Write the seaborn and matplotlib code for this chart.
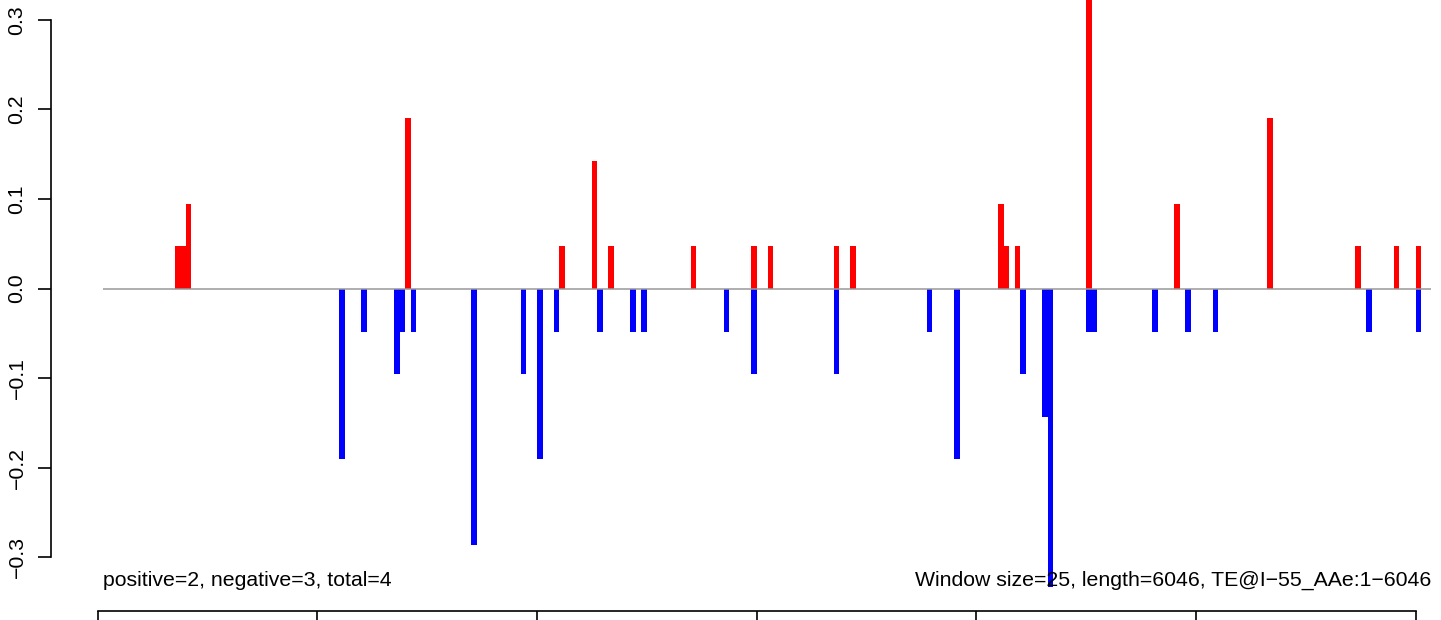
import numpy as np
import pandas as pd
import matplotlib
matplotlib.use("Agg")
import matplotlib.pyplot as plt
import seaborn as sns

# window settings from the label
window = 25
seq_len = 6046
n_win = int(np.ceil(seq_len / window))

# windows with positive score (index of window, value)
pos_win = [14, 15, 16, 56, 84, 90, 93, 108, 119, 122, 134, 137, 164, 165, 167,
           180, 196, 213, 229, 236, 240]
pos_val = [0.048, 0.048, 0.095, 0.19, 0.048, 0.143, 0.048, 0.048, 0.048, 0.048,
           0.048, 0.048, 0.095, 0.048, 0.048, 0.333, 0.095, 0.19, 0.048, 0.048, 0.048]

# windows with negative score
neg_win = [44, 48, 54, 55, 57, 68, 77, 80, 83, 91, 97, 99, 114, 119, 134, 151,
           156, 168, 172, 173, 180, 181, 192, 198, 203, 231, 240]
neg_val = [-0.19, -0.048, -0.095, -0.048, -0.048, -0.286, -0.095, -0.19, -0.048,
           -0.048, -0.048, -0.048, -0.048, -0.095, -0.095, -0.048, -0.19, -0.095,
           -0.143, -0.333, -0.048, -0.048, -0.048, -0.048, -0.048, -0.048, -0.048]

y_ticks = [-0.3, -0.2, -0.1, 0.0, 0.1, 0.2, 0.3]
y_labels = ["\u22120.3", "\u22120.2", "\u22120.1", "0.0", "0.1", "0.2", "0.3"]
x_ticks = [0, 1000, 2000, 3000, 4000, 5000, 6000]

left_text = "positive=2, negative=3, total=4"
right_text = "Window size=25, length=6046, TE@I\u221255_AAe:1\u22126046"

pos_df = pd.DataFrame({"pos": np.array(pos_win) * window + window / 2, "score": pos_val})
neg_df = pd.DataFrame({"pos": np.array(neg_win) * window + window / 2, "score": neg_val})

sns.set_style("white")
plt.rcParams["font.family"] = ["Liberation Sans", "DejaVu Sans"]
plt.rcParams["font.size"] = 15.3
plt.rcParams["text.color"] = "black"
plt.rcParams["xtick.color"] = "black"
plt.rcParams["ytick.color"] = "black"
plt.rcParams["axes.labelcolor"] = "black"

fig = plt.figure(figsize=(14.41, 6.2), dpi=100)
ax = fig.add_axes([0, 0, 1, 1])
ax.patch.set_alpha(0)

# bars: one bin per window, weighted by the score
sns.histplot(data=pos_df, x="pos", weights="score", binwidth=window,
             binrange=(0, window * n_win), color="#ff0000", alpha=1,
             linewidth=0, ax=ax)
sns.histplot(data=neg_df, x="pos", weights="score", binwidth=window,
             binrange=(0, window * n_win), color="#0000ff", alpha=1,
             linewidth=0, ax=ax)

# zero line over the sequence
ax.hlines(0, window, seq_len + window, color="#999999", lw=1.1, zorder=3)

ax.set_xlim(-444.8, 6115)
ax.set_ylim(-0.3698, 0.3222)
ax.set_xlabel("")
ax.set_ylabel("")

# R-like axes
for s in ["top", "right"]:
    ax.spines[s].set_visible(False)
ax.spines["left"].set_position(("data", -214))
ax.spines["left"].set_bounds(-0.3, 0.3)
ax.spines["bottom"].set_position(("data", -0.3597))
ax.spines["bottom"].set_bounds(0, 6000)
for s in ["left", "bottom"]:
    ax.spines[s].set_linewidth(1.2)
    ax.spines[s].set_color("black")

ax.set_yticks(y_ticks)
ax.set_yticklabels(y_labels, rotation=90, va="center", color="black")
ax.set_xticks(x_ticks)
ax.tick_params(axis="y", direction="out", length=9.4, width=1.2, pad=8, left=True)
ax.tick_params(axis="x", direction="out", length=9.4, width=1.2, bottom=True,
               labelbottom=False)

ax.text(window, -0.332, left_text, ha="left", va="baseline", color="black", zorder=5)
ax.text(seq_len + window, -0.332, right_text, ha="right", va="baseline",
        color="black", zorder=5)

plt.savefig("out.png", dpi=100)
